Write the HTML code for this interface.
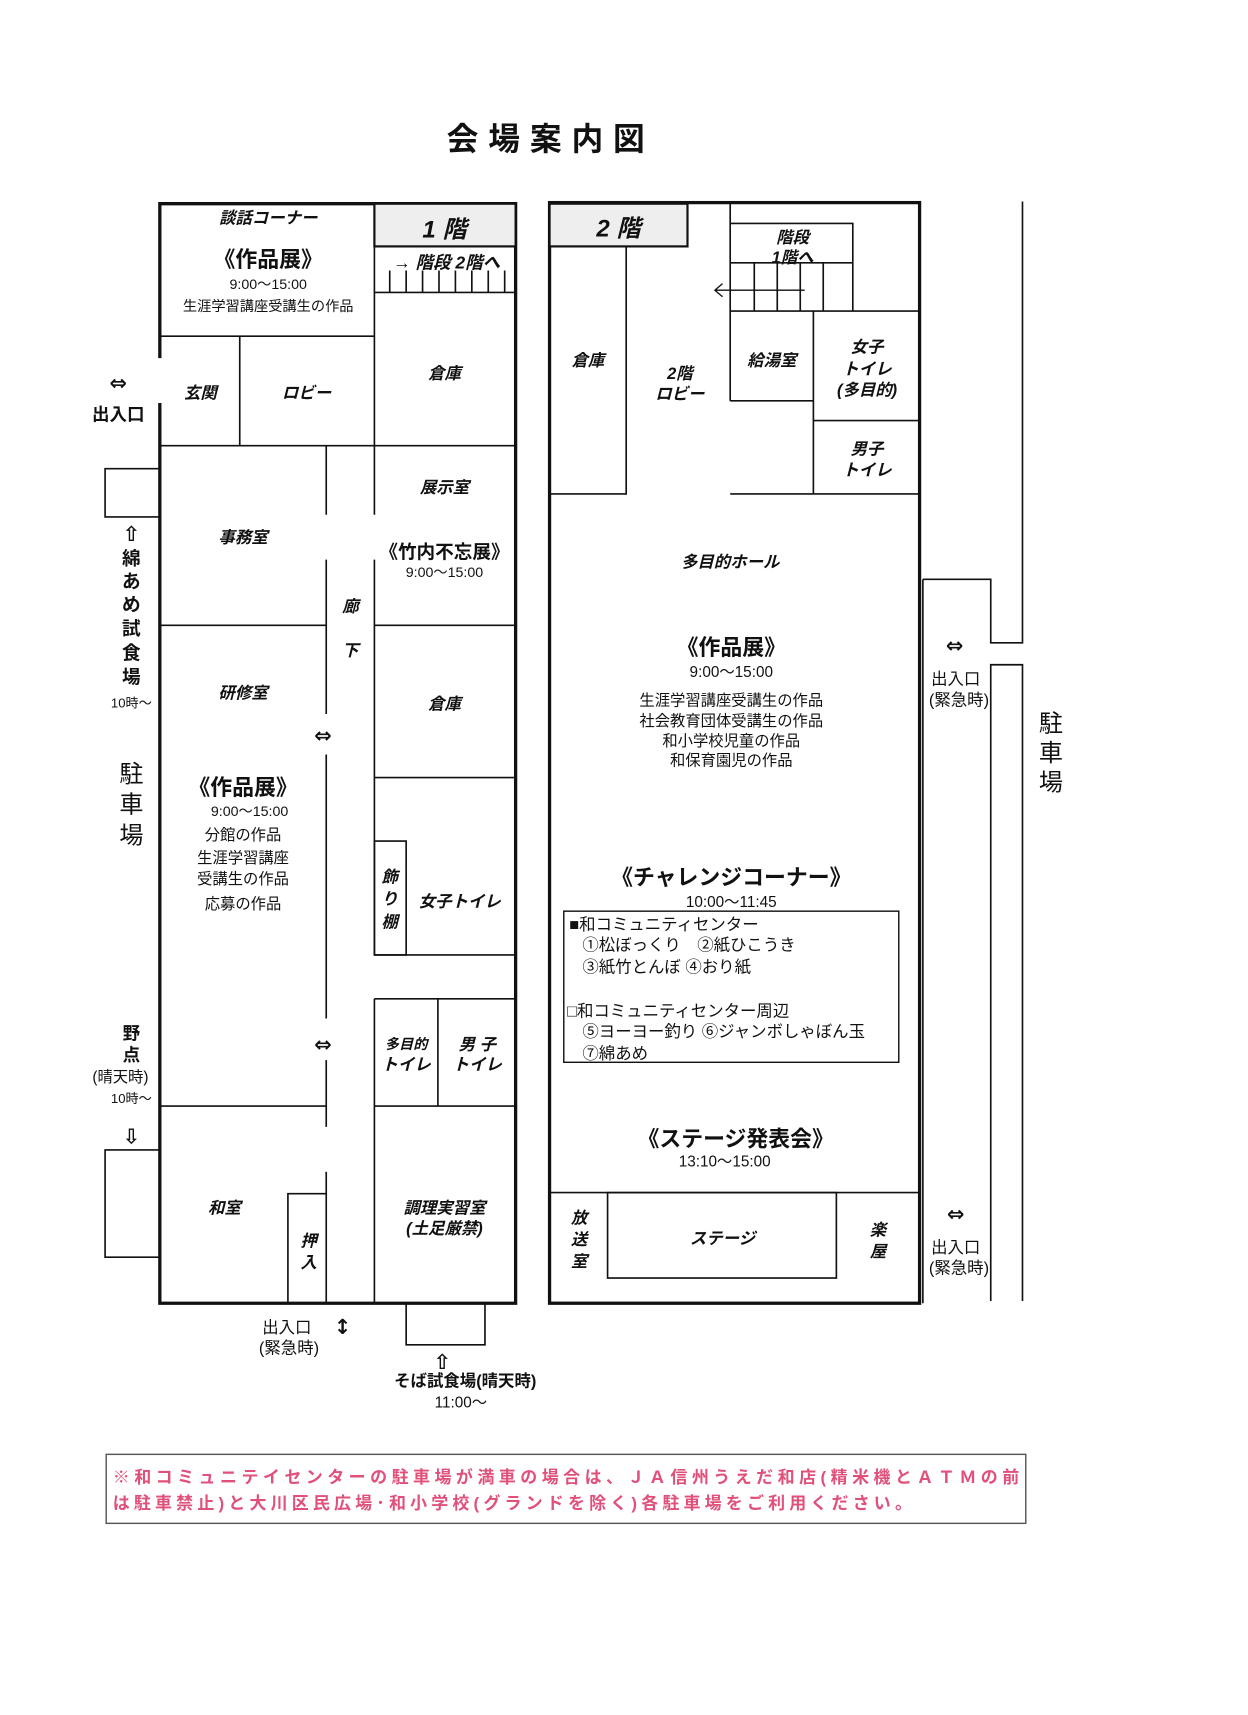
<!DOCTYPE html>
<html><head><meta charset="utf-8"><style>
html,body{margin:0;padding:0;background:#fff}
svg{display:block}
text{font-family:"Liberation Sans","Noto Sans CJK JP",sans-serif;fill:#111}
.i{font-style:italic;font-weight:bold;font-size:15px}
.b{font-weight:bold}
.s{font-size:13px}
.ar{font-family:"DejaVu Sans",sans-serif;font-size:19px;font-weight:bold}
</style></head><body>
<svg width="1248" height="1715" viewBox="0 0 1140 1566" preserveAspectRatio="none" xmlns="http://www.w3.org/2000/svg">
<g stroke="#111" fill="none" stroke-width="1.5">
<path d="M146 327 V186 H471 V1190 H146 V368" stroke-width="3"/>
<rect x="342" y="186" width="129" height="39" fill="#eee" stroke-width="2"/>
<line x1="146" y1="307" x2="342" y2="307"/>
<line x1="342" y1="186" x2="342" y2="470"/>
<line x1="342" y1="267" x2="471" y2="267"/>
<path d="M356 247V267M371 247V267M386 247V267M401 247V267M416 247V267M431 247V267M446 247V267M461 247V267"/>
<line x1="219" y1="307" x2="219" y2="407"/>
<line x1="146" y1="407" x2="471" y2="407"/>
<line x1="298" y1="407" x2="298" y2="470"/>
<line x1="298" y1="511" x2="298" y2="652"/>
<line x1="298" y1="689" x2="298" y2="930"/>
<line x1="298" y1="968" x2="298" y2="1029"/>
<line x1="298" y1="1070" x2="298" y2="1190"/>
<line x1="342" y1="511" x2="342" y2="872"/>
<line x1="342" y1="912" x2="342" y2="1190"/>
<line x1="146" y1="571" x2="298" y2="571"/>
<line x1="342" y1="571" x2="471" y2="571"/>
<line x1="342" y1="710" x2="471" y2="710"/>
<rect x="342" y="768" width="29" height="104"/>
<line x1="342" y1="872" x2="471" y2="872"/>
<line x1="342" y1="912" x2="471" y2="912"/>
<line x1="400" y1="912" x2="400" y2="1010"/>
<line x1="342" y1="1010" x2="471" y2="1010"/>
<line x1="146" y1="1010" x2="298" y2="1010"/>
<path d="M263 1190V1090H298"/>
<path d="M146 428H96V472H146"/>
<path d="M146 1050H96V1148H146"/>
<path d="M371 1190V1228H443V1190"/>
<rect x="502" y="185" width="338" height="1005" stroke-width="3"/>
<rect x="502" y="186" width="126" height="39" fill="#eee" stroke-width="2"/>
<path d="M502 451H572V225"/>
<line x1="667" y1="186" x2="667" y2="366"/>
<path d="M667 204H779V284"/>
<line x1="667" y1="240" x2="779" y2="240"/>
<path d="M689 240V284M710 240V284M731 240V284M752 240V284"/>
<line x1="667" y1="284" x2="840" y2="284"/>
<path d="M735 265H653M660 259L653 265L660 271" stroke-width="1.2"/>
<path d="M667 366H743"/>
<line x1="743" y1="284" x2="743" y2="451"/>
<line x1="743" y1="384" x2="840" y2="384"/>
<line x1="667" y1="451" x2="840" y2="451"/>
<line x1="502" y1="1089" x2="840" y2="1089"/>
<rect x="555" y="1089" width="209" height="78"/>
<rect x="515" y="832" width="306" height="138" stroke-width="1.3"/>
<line x1="843" y1="529" x2="843" y2="1190"/>
<path d="M843 529H905V587H934V184"/>
<path d="M934 1188V607H905V1188"/>
<rect x="97" y="1328" width="840" height="63" stroke="#555" stroke-width="1.3"/>
</g>
<text x="503" y="137" class="b" font-size="29" text-anchor="middle" letter-spacing="9">会場案内図</text>
<g text-anchor="middle">
<text x="245" y="204" class="i">談話コーナー</text>
<text x="406" y="217" class="i" style="font-size:22px">1 階</text>
<text x="408" y="245" class="i" style="font-size:16px">→ 階段 2階へ</text>
<text x="245" y="244" class="b" font-size="20">《作品展》</text>
<text x="245" y="264" class="s">9:00～15:00</text>
<text x="245" y="284" class="s">生涯学習講座受講生の作品</text>
<text x="183" y="364" class="i">玄関</text>
<text x="280" y="364" class="i">ロビー</text>
<text x="406" y="346" class="i">倉庫</text>
<text x="406" y="450" class="i">展示室</text>
<text x="406" y="510" class="b" font-size="17">《竹内不忘展》</text>
<text x="406" y="527" class="s">9:00～15:00</text>
<text x="222" y="496" class="i">事務室</text>
<text x="222" y="638" class="i">研修室</text>
<text x="320" y="559" class="i">廊</text>
<text x="320" y="599" class="i">下</text>
<text x="295" y="678" class="ar">⇔</text>
<text x="222" y="726" class="b" font-size="20">《作品展》</text>
<text x="228" y="745" class="s">9:00～15:00</text>
<text x="222" y="767" font-size="14">分館の作品</text>
<text x="222" y="788" font-size="14">生涯学習講座</text>
<text x="222" y="807" font-size="14">受講生の作品</text>
<text x="222" y="830" font-size="14">応募の作品</text>
<text x="406" y="648" class="i">倉庫</text>
<text x="356" y="806" class="i">飾</text>
<text x="356" y="826" class="i">り</text>
<text x="356" y="847" class="i">棚</text>
<text x="420" y="828" class="i">女子トイレ</text>
<text x="295" y="960" class="ar">⇔</text>
<text x="371" y="958" class="i" style="font-size:13px">多目的</text>
<text x="371" y="977" class="i">トイレ</text>
<text x="436" y="959" class="i">男 子</text>
<text x="436" y="977" class="i">トイレ</text>
<text x="205" y="1108" class="i">和室</text>
<text x="282" y="1138" class="i">押</text>
<text x="282" y="1158" class="i">入</text>
<text x="406" y="1108" class="i">調理実習室</text>
<text x="406" y="1127" class="i">(土足厳禁)</text>
<text x="108" y="356" class="ar" font-size="16">⇔</text>
<text x="108" y="384" class="b" font-size="16">出入口</text>
<text x="120" y="494" class="ar">⇧</text>
<text x="120" y="516" class="b" font-size="17">綿</text>
<text x="120" y="537" class="b" font-size="17">あ</text>
<text x="120" y="558" class="b" font-size="17">め</text>
<text x="120" y="580" class="b" font-size="17">試</text>
<text x="120" y="602" class="b" font-size="17">食</text>
<text x="120" y="624" class="b" font-size="17">場</text>
<text x="120" y="646" font-size="12">10時～</text>
<text x="120" y="714" font-size="22">駐</text>
<text x="120" y="742" font-size="22">車</text>
<text x="120" y="770" font-size="22">場</text>
<text x="120" y="949" class="b" font-size="16">野</text>
<text x="120" y="969" class="b" font-size="16">点</text>
<text x="110" y="988" font-size="14">(晴天時)</text>
<text x="120" y="1007" font-size="12">10時～</text>
<text x="120" y="1044" class="ar">⇩</text>
<text x="262" y="1217" font-size="15">出入口</text>
<text x="313" y="1218" class="ar" font-size="17">↕</text>
<text x="264" y="1236" font-size="15">(緊急時)</text>
<text x="404" y="1250" class="ar">⇧</text>
<text x="425" y="1266" class="b" font-size="15">そば試食場(晴天時)</text>
<text x="421" y="1285" font-size="14">11:00～</text>
<text x="565" y="216" class="i" style="font-size:22px">2 階</text>
<text x="724" y="222" class="i">階段</text>
<text x="724" y="240" class="i">1階へ</text>
<text x="537" y="334" class="i">倉庫</text>
<text x="621" y="346" class="i">2階</text>
<text x="621" y="365" class="i">ロビー</text>
<text x="705" y="334" class="i">給湯室</text>
<text x="792" y="322" class="i">女子</text>
<text x="792" y="342" class="i">トイレ</text>
<text x="792" y="361" class="i">(多目的)</text>
<text x="792" y="415" class="i">男子</text>
<text x="792" y="434" class="i">トイレ</text>
<text x="667" y="518" class="i">多目的ホール</text>
<text x="668" y="598" class="b" font-size="20">《作品展》</text>
<text x="668" y="618" font-size="14">9:00～15:00</text>
<text x="668" y="644" font-size="14">生涯学習講座受講生の作品</text>
<text x="668" y="663" font-size="14">社会教育団体受講生の作品</text>
<text x="668" y="681" font-size="14">和小学校児童の作品</text>
<text x="668" y="699" font-size="14">和保育園児の作品</text>
<text x="668" y="808" class="b" font-size="20">《チャレンジコーナー》</text>
<text x="668" y="828" font-size="14">10:00～11:45</text>
<text x="672" y="1047" class="b" font-size="20">《ステージ発表会》</text>
<text x="662" y="1065" font-size="14">13:10～15:00</text>
<text x="529" y="1117" class="i">放</text>
<text x="529" y="1137" class="i">送</text>
<text x="529" y="1157" class="i">室</text>
<text x="660" y="1136" class="i">ステージ</text>
<text x="802" y="1128" class="i">楽</text>
<text x="802" y="1148" class="i">屋</text>
<text x="872" y="596" class="ar" font-size="17">⇔</text>
<text x="873" y="625" font-size="15">出入口</text>
<text x="876" y="644" font-size="15">(緊急時)</text>
<text x="873" y="1115" class="ar" font-size="17">⇔</text>
<text x="873" y="1144" font-size="15">出入口</text>
<text x="876" y="1163" font-size="15">(緊急時)</text>
<text x="960" y="668" font-size="22">駐</text>
<text x="960" y="695" font-size="22">車</text>
<text x="960" y="722" font-size="22">場</text>
</g>
<g font-size="15">
<text x="520" y="849">■和コミュニティセンター</text>
<text x="532" y="868">①松ぼっくり　②紙ひこうき</text>
<text x="532" y="888">③紙竹とんぼ ④おり紙</text>
<text x="518" y="928">□和コミュニティセンター周辺</text>
<text x="532" y="947">⑤ヨーヨー釣り ⑥ジャンボしゃぼん玉</text>
<text x="532" y="967">⑦綿あめ</text>
</g>
<g font-size="15.5" class="b">
<text x="103" y="1354" style="fill:#e0507a" textLength="828">※和コミュニテイセンターの駐車場が満車の場合は、ＪＡ信州うえだ和店(精米機とＡＴＭの前</text>
<text x="103" y="1378" style="fill:#e0507a" textLength="730">は駐車禁止)と大川区民広場･和小学校(グランドを除く)各駐車場をご利用ください。</text>
</g>
</svg>
</body></html>
